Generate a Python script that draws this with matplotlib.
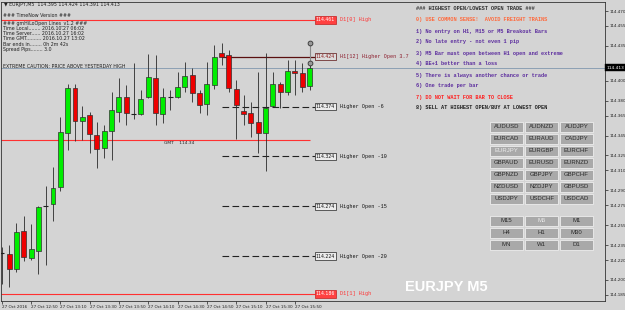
import matplotlib
matplotlib.use("Agg")
import matplotlib.pyplot as plt
from matplotlib.patches import Rectangle
import numpy as np

W, H = 625, 310
BG = "#d4d4d4"

# EURJPY M5 bars, 27 Oct 2016 12:30 .. 16:00
opens = [114.226, 114.226, 114.211, 114.249, 114.222, 114.229, 114.274, 114.276, 114.293, 114.348,
         114.393, 114.360, 114.366, 114.346, 114.332, 114.350, 114.369, 114.384, 114.368, 114.367,
         114.384, 114.403, 114.367, 114.384, 114.384, 114.394, 114.406, 114.388, 114.377, 114.396,
         114.428, 114.426, 114.392, 114.370, 114.368, 114.359, 114.348, 114.375, 114.397, 114.389,
         114.410, 114.408, 114.395]
highs = [114.233, 114.235, 114.257, 114.264, 114.256, 114.274, 114.294, 114.313, 114.364, 114.397,
         114.397, 114.375, 114.369, 114.359, 114.356, 114.389, 114.403, 114.396, 114.418, 114.391,
         114.427, 114.426, 114.393, 114.391, 114.409, 114.419, 114.413, 114.391, 114.419, 114.436,
         114.438, 114.431, 114.401, 114.386, 114.379, 114.409, 114.428, 114.409, 114.399, 114.421,
         114.421, 114.418, 114.424]
lows = [114.196, 114.193, 114.208, 114.219, 114.220, 114.206, 114.215, 114.259, 114.289, 114.330,
        114.339, 114.340, 114.327, 114.312, 114.322, 114.320, 114.359, 114.356, 114.362, 114.366,
        114.383, 114.356, 114.358, 114.371, 114.383, 114.389, 114.379, 114.368, 114.366, 114.392,
        114.416, 114.389, 114.341, 114.356, 114.343, 114.327, 114.309, 114.374, 114.373, 114.386,
        114.386, 114.389, 114.391]
closes = [114.227, 114.211, 114.248, 114.223, 114.231, 114.273, 114.274, 114.292, 114.349, 114.393,
          114.360, 114.364, 114.347, 114.331, 114.350, 114.371, 114.384, 114.368, 114.367, 114.382,
          114.404, 114.368, 114.384, 114.384, 114.394, 114.405, 114.388, 114.376, 114.397, 114.424,
          114.424, 114.393, 114.376, 114.367, 114.358, 114.348, 114.373, 114.397, 114.389, 114.410,
          114.408, 114.394, 114.413]

time_ticks = [0, 4, 8, 12, 16, 20, 24, 28, 32, 36, 40]
time_labels = ["27 Oct 2016", "27 Oct 12:50", "27 Oct 13:10", "27 Oct 13:30", "27 Oct 13:50",
               "27 Oct 14:10", "27 Oct 14:30", "27 Oct 14:50", "27 Oct 15:10", "27 Oct 15:30",
               "27 Oct 15:50"]
# 114.415 sits under the bid box, so it gets no label
price_ticks = [114.470, 114.455, 114.435, 114.400, 114.380, 114.365, 114.345, 114.325,
               114.310, 114.290, 114.275, 114.255, 114.235, 114.220, 114.200, 114.185]

bid = 114.413
gmt_open = 114.34
day_highs = [114.461, 114.186]
day_names = ["D1[0] High", "D1[1] High"]
h1_open = 114.424
h1_name = "H1[12] Higher Open 3.7"
step_prices = [114.374, 114.324, 114.274, 114.224]
step_names = ["Higher Open -6", "Higher Open -10", "Higher Open -15", "Higher Open -20"]
marks = [114.418, 114.438]

info_lines = ["\u25bc EURJPY,M5  114.395 114.424 114.391 114.413",
              "### TimeNow Version ###",
              "### gmHiLoOpen Lines_v1.2 ###",
              "Time Local........ 2016.10.27 06:02",
              "Time Server...... 2016.10.27 16:02",
              "Time GMT.......... 2016.10.27 13:02",
              "Bar ends in........ 0h 2m 42s",
              "Spread Pips........ 3.0"]
info_y = [4.5, 15.5, 23.5, 28.7, 33.7, 38.7, 44, 49]

rules = ["### HIGHEST OPEN/LOWEST OPEN TRADE ###",
         "0) USE COMMON SENSE!  AVOID FREIGHT TRAINS",
         "1) No entry on H1, M15 or M5 Breakout Bars",
         "2) No late entry - not even 1 pip",
         "3) M5 Bar must open between H1 open and extreme",
         "4) BE+1 better than a loss",
         "5) There is always another chance or trade",
         "6) One trade per bar",
         "7) DO NOT WAIT FOR BAR TO CLOSE",
         "8) SELL AT HIGHEST OPEN/BUY AT LOWEST OPEN"]
rule_colors = ["#303030", "#ff6a3d", "#5c2d9e", "#5c2d9e", "#5c2d9e", "#5c2d9e",
               "#5c2d9e", "#5c2d9e", "#ff2020", "#202020"]

pairs = [["AUDUSD", "AUDNZD", "AUDJPY"],
         ["EURCAD", "EURAUD", "CADJPY"],
         ["EURJPY", "EURGBP", "EURCHF"],
         ["GBPAUD", "EURUSD", "EURNZD"],
         ["GBPNZD", "GBPJPY", "GBPCHF"],
         ["NZDUSD", "NZDJPY", "GBPUSD"],
         ["USDJPY", "USDCHF", "USDCAD"]]
periods = [["M15", "M5", "M1"],
           ["H4", "H1", "M30"],
           ["MN", "W1", "D1"]]
active = ["EURJPY", "M5"]


def fx(x):
    return x / W


def fy(y):
    return 1 - y / H


fig = plt.figure(figsize=(W / 100, H / 100), dpi=100, facecolor=BG)
ax = fig.add_axes([1 / W, 1 - 301 / H, 604 / W, 299 / H])
ax.set_facecolor(BG)
ax.set_xlim(-0.0955, 82.31)
ax.set_ylim(114.17884, 114.47904)

# candles
o = np.array(opens)
h = np.array(highs)
l = np.array(lows)
c = np.array(closes)
x = np.arange(len(o))
ax.vlines(x, l, h, color="#2a2a2a", lw=0.6, zorder=2)
body = np.abs(c - o)
doji = body < 0.0012
up = c > o
bx = x[~doji]
ax.bar(bx, body[~doji], bottom=np.minimum(o, c)[~doji], width=0.68,
       color=np.where(up, "#00ee00", "#ee0000")[~doji], edgecolor="#303030", lw=0.5, zorder=3)
ax.hlines(c[doji], x[doji] - 0.34, x[doji] + 0.34, color="#202020", lw=0.8, zorder=3)

# level lines
ax.axhline(bid, color="#8ca0b4", lw=0.7, zorder=1)
ax.hlines(day_highs, -0.1, 42.7, color="#ff3030", lw=0.8, zorder=1)
ax.hlines(gmt_open, -0.1, 42.05, color="#ff3030", lw=0.8, zorder=1)
ax.hlines(h1_open, 30, 42.7, color="#5a1010", lw=0.9, zorder=1)
ax.hlines(step_prices, 30, 42.7, color="#222222", lw=0.8, linestyles=(0, (6, 3)), zorder=1)

for p, name in zip(day_highs, day_names):
    ax.text(42.85, p, "%.3f" % p, fontsize=3.3, color="white", va="center", ha="left",
            bbox=dict(boxstyle="square,pad=0.25", fc="#ff4040", ec="#c02020", lw=0.5))
    ax.text(46.1, p, name, fontsize=3.7, family="Liberation Mono", color="#ff3030", va="center")
ax.text(42.85, h1_open, "%.3f" % h1_open, fontsize=3.3, color="#8b1a1a", va="center", ha="left",
        bbox=dict(boxstyle="square,pad=0.25", fc="#dcdcdc", ec="#5a1010", lw=0.5))
ax.text(46.1, h1_open, h1_name, fontsize=3.7, family="Liberation Mono", color="#8b1a2a", va="center")
for p, name in zip(step_prices, step_names):
    ax.text(42.85, p, "%.3f" % p, fontsize=3.3, color="#111111", va="center", ha="left",
            bbox=dict(boxstyle="square,pad=0.25", fc="#ececec", ec="#222222", lw=0.5))
    ax.text(46.1, p, name, fontsize=3.7, family="Liberation Mono", color="#111111", va="center")

# markers on the last bar
ax.plot([42, 42], marks, color="#8a8a8a", lw=0.8, zorder=4)
ax.scatter([42, 42], marks, s=12, facecolor="#999999", edgecolor="#333333", lw=0.6, zorder=5)

fig.text(fx(179), fy(143), "GMT    %.2f" % gmt_open, fontsize=3.2, color="#222222", ha="center", va="center")

# axes styling
for s in ax.spines.values():
    s.set_color("#333333")
    s.set_linewidth(0.6)
ax.yaxis.tick_right()
ax.set_yticks(price_ticks)
ax.set_yticklabels(["%.3f" % v for v in price_ticks])
ax.set_xticks(time_ticks)
ax.set_xticklabels(time_labels)
for lbl in ax.get_xticklabels():
    lbl.set_ha("left")
ax.tick_params(axis="y", labelsize=3, length=2, width=0.5, pad=1.5, colors="#222222")
ax.tick_params(axis="x", labelsize=3, length=2, width=0.5, pad=1, colors="#222222")
ax.text(1.002, bid, "%.3f" % bid, transform=ax.get_yaxis_transform(), fontsize=3.2, color="white",
        va="center", ha="left", bbox=dict(boxstyle="square,pad=0.3", fc="black", ec="black", lw=0.3))

# header text
for i, (txt, yy) in enumerate(zip(info_lines, info_y)):
    fig.text(fx(3 if i else 4), fy(yy), txt, fontsize=3.4, color="#202020", va="center")
fig.text(fx(3), fy(66), "EXTREME CAUTION: PRICE ABOVE YESTERDAY HIGH", fontsize=3.4,
         color="#202020", va="center")

# rules panel
for i, (txt, col) in enumerate(zip(rules, rule_colors)):
    fig.text(fx(416), fy(9 + 11 * i), txt, fontsize=3.75, family="Liberation Mono",
             color=col, va="center", weight="bold")

# buttons
col_x = [490, 525, 560]


def draw_buttons(grid, top):
    for r, row in enumerate(grid):
        cy = top + 12 * r
        for k, name in enumerate(row):
            rect = Rectangle((fx(col_x[k]), fy(cy + 5)), 33 / W, 10 / H, transform=fig.transFigure,
                             fc="#a9a9a9", ec="#ededed", lw=0.6)
            fig.add_artist(rect)
            fig.text(fx(col_x[k] + 16.5), fy(cy), name, fontsize=4.3, family="Liberation Sans",
                     color="#ececec" if name in active else "#2a2a2a", ha="center", va="center")


draw_buttons(pairs, 126.6)
draw_buttons(periods, 221)

fig.text(fx(446), fy(287), "EURJPY M5", fontsize=10.5, family="Liberation Sans", weight="bold",
         color="white", ha="center", va="center")

fig.savefig("out.png", dpi=100, facecolor=BG)
